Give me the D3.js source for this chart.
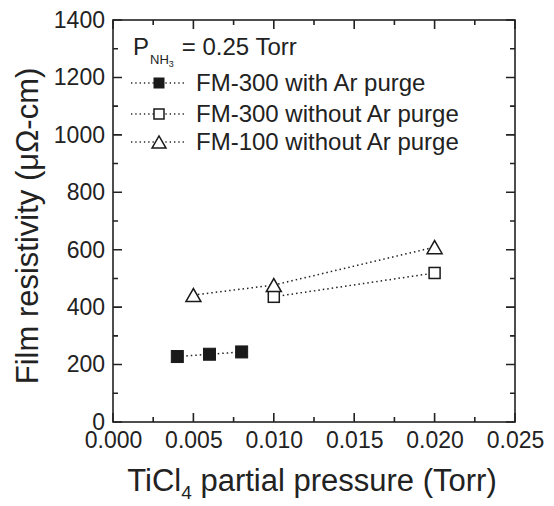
<!DOCTYPE html>
<html lang="en">

<head>
  <meta charset="UTF-8" />
  <title>Film resistivity vs TiCl4</title>
  <script src="https://d3js.org/d3.v7.min.js"></script>
  <style>
    body { margin: 0; background: #fff; }
    svg { font-family: "Liberation Sans", Arial, sans-serif; }
  </style>
</head>

<body>
  <script>
    //data
    const filledX = [0.004, 0.006, 0.008];
    const filledY = [228, 236, 244];
    const openX = [0.010, 0.020];
    const openY = [436, 519];
    const triX = [0.005, 0.010, 0.020];
    const triY = [442, 477, 609];
    const xTicks = [0, 0.005, 0.010, 0.015, 0.020, 0.025];
    const yTicks = [0, 200, 400, 600, 800, 1000, 1200, 1400];
    const legendLabels = ['FM-300 with Ar purge', 'FM-300 without Ar purge', 'FM-100 without Ar purge'];

    const W = 554, H = 506;
    const margin = { top: 20, right: 39, bottom: 84, left: 113 };
    const width = W - margin.left - margin.right,
      height = H - margin.top - margin.bottom;

    const svg = d3.select('body').append('svg')
      .attr('width', W)
      .attr('height', H);
    const g = svg.append('g')
      .attr('transform', `translate(${margin.left},${margin.top})`);

    const x = d3.scaleLinear().domain([0, 0.025]).range([0, width]);
    const y = d3.scaleLinear().domain([0, 1400]).range([height, 0]);

    //tick labels from the axes
    const xAxis = g.append('g').attr('transform', `translate(0,${height})`)
      .call(d3.axisBottom(x).tickValues(xTicks).tickSize(0).tickPadding(10).tickFormat(d3.format('.3f')));
    xAxis.select('.domain').remove();
    xAxis.selectAll('text').attr('font-size', 23).attr('fill', '#222');

    const yAxis = g.append('g')
      .call(d3.axisLeft(y).tickValues(yTicks).tickSize(0).tickPadding(8).tickFormat(d3.format('d')));
    yAxis.select('.domain').remove();
    yAxis.selectAll('text').attr('font-size', 23).attr('fill', '#222');

    //inward ticks on all four sides (major + minor)
    const xMinor = d3.range(0, 0.02501, 0.0025);
    const yMinor = d3.range(0, 1401, 100);
    const isMajorX = v => xTicks.some(t => Math.abs(t - v) < 1e-9);
    const isMajorY = v => yTicks.includes(v);
    let tickPath = '';
    [height, 0].forEach(base => {
      const dir = base === 0 ? 1 : -1;
      xMinor.forEach(d => {
        tickPath += `M${x(d)},${base}V${base + dir * (isMajorX(d) ? 9 : 5)}`;
      });
    });
    [0, width].forEach(base => {
      const dir = base === 0 ? 1 : -1;
      yMinor.forEach(d => {
        tickPath += `M${base},${y(d)}H${base + dir * (isMajorY(d) ? 9 : 5)}`;
      });
    });
    g.append('path')
      .attr('d', tickPath)
      .attr('fill', 'none')
      .attr('stroke', '#222')
      .attr('stroke-width', 1.6);

    //frame
    g.append('rect')
      .attr('width', width).attr('height', height)
      .attr('fill', 'none').attr('stroke', '#222').attr('stroke-width', 1.6);

    //series
    const line = d3.line().x(d => x(d[0])).y(d => y(d[1]));
    const series = [
      { xs: filledX, ys: filledY, kind: 'filled' },
      { xs: openX, ys: openY, kind: 'open' },
      { xs: triX, ys: triY, kind: 'tri' }
    ];
    const drawMarker = (sel, kind, cx, cy, s) => {
      if (kind === 'tri') {
        const h = s * 0.87;
        sel.append('path')
          .attr('d', `M${cx - s / 2},${cy + h / 2}L${cx},${cy - h / 2}L${cx + s / 2},${cy + h / 2}Z`)
          .attr('fill', '#fff').attr('stroke', '#1a1a1a').attr('stroke-width', 1.5);
      } else {
        sel.append('rect')
          .attr('x', cx - s / 2).attr('y', cy - s / 2)
          .attr('width', s).attr('height', s)
          .attr('fill', kind === 'filled' ? '#1a1a1a' : '#fff')
          .attr('stroke', '#1a1a1a').attr('stroke-width', kind === 'filled' ? 1 : 1.5);
      }
    };
    series.forEach(s => {
      const pts = s.xs.map((v, i) => [v, s.ys[i]]);
      g.append('path')
        .attr('d', line(pts))
        .attr('fill', 'none')
        .attr('stroke', '#222')
        .attr('stroke-width', 1.5)
        .attr('stroke-dasharray', '1.5,3');
      const mg = g.append('g');
      pts.forEach(p => {
        drawMarker(mg, s.kind, x(p[0]), y(p[1]), s.kind === 'tri' ? 15 : (s.kind === 'filled' ? 12 : 11));
      });
    });

    //legend
    const header = svg.append('text')
      .attr('x', 133).attr('y', 55)
      .attr('font-size', 24).attr('fill', '#222');
    header.append('tspan').text('P');
    header.append('tspan').attr('font-size', 13).attr('dy', 9).attr('dx', 1).text('NH');
    header.append('tspan').attr('font-size', 9).attr('dy', 3).text('3');
    header.append('tspan').attr('dy', -12).attr('dx', 8).text('= 0.25 Torr');

    const legendY = [83, 114, 142];
    series.forEach((s, i) => {
      const ly = legendY[i];
      svg.append('line')
        .attr('x1', 131).attr('x2', 186)
        .attr('y1', ly).attr('y2', ly)
        .attr('stroke', '#222').attr('stroke-width', 1.3)
        .attr('stroke-dasharray', '1.3,3');
      drawMarker(svg, s.kind, 159, ly, s.kind === 'tri' ? 14 : 10);
      svg.append('text')
        .attr('x', 196).attr('y', ly + 8)
        .attr('font-size', 24).attr('fill', '#222')
        .text(legendLabels[i]);
    });

    //axis titles
    const xt = svg.append('text')
      .attr('x', 312).attr('y', 491)
      .attr('text-anchor', 'middle')
      .attr('font-size', 31).attr('fill', '#222');
    xt.append('tspan').text('TiCl');
    xt.append('tspan').attr('font-size', 19).attr('dy', 8).text('4');
    xt.append('tspan').attr('dy', -8).text(' partial pressure (Torr)');

    svg.append('text')
      .attr('transform', `translate(38,${226}) rotate(-90)`)
      .attr('text-anchor', 'middle')
      .attr('font-size', 31).attr('fill', '#222')
      .text('Film resistivity (\u03bc\u03a9-cm)');
  </script>
</body>

</html>
